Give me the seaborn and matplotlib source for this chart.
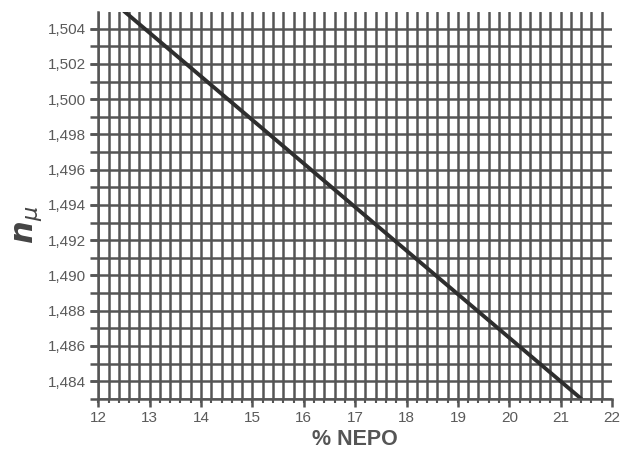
import numpy as np
import pandas as pd
import matplotlib
matplotlib.use("Agg")
import matplotlib.pyplot as plt
import seaborn as sns
from matplotlib.ticker import MultipleLocator, FixedLocator, FuncFormatter

# data
nepo = [12.5, 21.4]
n_mu = [1.5050, 1.4830]
x_ticks = [12, 13, 14, 15, 16, 17, 18, 19, 20, 21, 22]
y_ticks = [1.484, 1.486, 1.488, 1.490, 1.492, 1.494, 1.496, 1.498, 1.500, 1.502, 1.504]

sns.set_style("white")
plt.rcParams['font.family'] = ['Liberation Sans', 'DejaVu Sans']

df = pd.DataFrame({'nepo': nepo, 'n': n_mu})

fig = plt.figure(figsize=(6.22, 4.61), dpi=100)
ax = fig.add_axes([0.158, 0.135, 0.826, 0.839])

grid_col = '#555555'
ax.set_xlim(12, 22)
ax.set_ylim(1.483, 1.50495)
ax.set_xticks(x_ticks)
ax.set_yticks(y_ticks)
# grid every 0.2 % and every 0.001, none at the right edge
ax.xaxis.set_minor_locator(FixedLocator(np.round(np.arange(12, 21.9, 0.2), 1)))
ax.yaxis.set_minor_locator(MultipleLocator(0.001))
ax.xaxis.remove_overlapping_locs = False
ax.yaxis.remove_overlapping_locs = False
ax.yaxis.set_major_formatter(FuncFormatter(lambda v, p: f"{v:.3f}".replace('.', ',')))

ax.grid(False, which='major')
ax.grid(True, which='minor', color=grid_col, linewidth=1.8)
ax.set_axisbelow(True)

sns.lineplot(data=df, x='nepo', y='n', ax=ax, color='#2e2e2e', linewidth=2.8)

for s in ['top', 'right']:
    ax.spines[s].set_visible(False)
for s in ['left', 'bottom']:
    ax.spines[s].set_color(grid_col)
    ax.spines[s].set_linewidth(1.8)

ax.tick_params(axis='x', which='major', direction='out', length=6, width=1.8,
               color=grid_col, labelsize=11, labelcolor='#5a5a5a', pad=3, bottom=True)
ax.tick_params(axis='x', which='minor', direction='out', length=3, width=1.5,
               color=grid_col, bottom=True)
ax.tick_params(axis='y', which='both', direction='out', length=6, width=1.8,
               color=grid_col, labelsize=11, labelcolor='#5a5a5a', pad=3, left=True)

ax.set_xlabel('% NEPO', fontsize=15.5, fontweight='bold', color='#555555', labelpad=3)
ax.set_ylabel(r'$\mathbfit{n}_{\mu}$', fontsize=23, color='#444444')
ax.yaxis.set_label_coords(-0.105, 0.45)

fig.savefig('out.png', dpi=100)
